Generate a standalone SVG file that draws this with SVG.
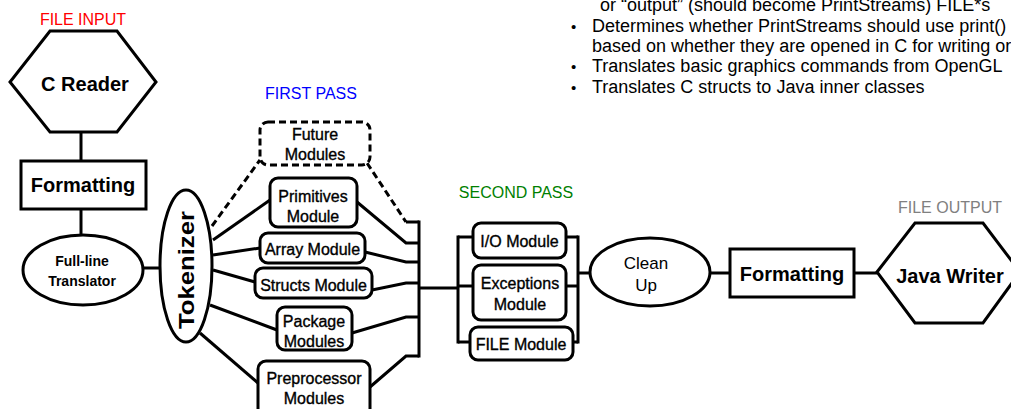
<svg xmlns="http://www.w3.org/2000/svg" width="1011" height="409" viewBox="0 0 1011 409">
<style>
.s{fill:#fff;stroke:#000;stroke-width:3}
.d{fill:#fff;stroke:#000;stroke-width:3;stroke-dasharray:7,4}
.ln{fill:none;stroke:#000;stroke-width:3}
.dl{fill:none;stroke:#000;stroke-width:3;stroke-dasharray:7,4}
text{font-family:"Liberation Sans",Arial,sans-serif;text-anchor:middle;fill:#000}
.b20{font-size:20px;font-weight:bold}
.b14{font-size:14px;font-weight:bold}
.m{font-size:16px;stroke:#000;stroke-width:0.35}
.h{font-size:16px}
.note{font-size:18px;text-anchor:start}
</style>
<rect width="1011" height="409" fill="#fff"/>
<g id="connectors">
<line class="ln" x1="81" y1="132" x2="81" y2="161"/>
<line class="ln" x1="81" y1="209" x2="81" y2="235"/>
<line class="ln" x1="144" y1="268" x2="160" y2="268"/>
<line class="dl" x1="212" y1="226" x2="260" y2="160"/>
<line class="ln" x1="213" y1="240" x2="270" y2="200"/>
<line class="ln" x1="213" y1="255" x2="260" y2="248"/>
<line class="ln" x1="213" y1="270" x2="255" y2="282"/>
<line class="ln" x1="210" y1="305" x2="277" y2="330"/>
<line class="ln" x1="200" y1="333" x2="258" y2="383"/>
<polyline class="dl" points="367,163 406,222"/>
<line class="ln" x1="406" y1="222" x2="419" y2="222"/>
<polyline class="ln" points="357,202 406,243 419,243"/>
<polyline class="ln" points="365,252 406,262 419,262"/>
<polyline class="ln" points="372,290 406,283 419,283"/>
<polyline class="ln" points="352,333 406,317 419,317"/>
<polyline class="ln" points="370,387 406,356 419,356"/>
<line class="ln" x1="419" y1="220.5" x2="419" y2="357.5"/>
<line class="ln" x1="419" y1="288" x2="458" y2="288"/>
<line class="ln" x1="458" y1="235.5" x2="458" y2="343.5"/>
<line class="ln" x1="458" y1="237" x2="473" y2="237"/>
<line class="ln" x1="458" y1="286" x2="473" y2="286"/>
<line class="ln" x1="458" y1="342" x2="470" y2="342"/>
<line class="ln" x1="578" y1="235.5" x2="578" y2="343.5"/>
<line class="ln" x1="566" y1="237" x2="578" y2="237"/>
<line class="ln" x1="566" y1="286" x2="578" y2="286"/>
<line class="ln" x1="573" y1="342" x2="578" y2="342"/>
<line class="ln" x1="578" y1="273" x2="590" y2="273"/>
<line class="ln" x1="710" y1="273" x2="730" y2="273"/>
<line class="ln" x1="854" y1="273" x2="877" y2="273"/>
</g>
<g id="file-input-label"><text x="83" y="25" class="h" style="fill:#f00">FILE INPUT</text></g>
<g id="c-reader">
<polygon class="s" points="50,31 117,31 156,82 117,132 50,132 10,82"/>
<text x="85" y="91" class="b20">C Reader</text>
</g>
<g id="formatting-in">
<rect class="s" x="21" y="161" width="125" height="48"/>
<text x="83" y="192" class="b20">Formatting</text>
</g>
<g id="full-line-translator">
<ellipse class="s" cx="83" cy="270" rx="60" ry="35"/>
<text x="82" y="266" class="b14">Full-line</text>
<text x="82" y="286" class="b14">Translator</text>
</g>
<g id="tokenizer">
<ellipse class="s" cx="186" cy="266" rx="26" ry="76"/>
<text x="0" y="0" class="b20" transform="translate(194,270) rotate(-90)" textLength="118" lengthAdjust="spacingAndGlyphs" style="font-size:22px">Tokenizer</text>
</g>
<g id="first-pass-label"><text x="311" y="99" class="h" style="fill:#00f">FIRST PASS</text></g>
<g id="future-modules">
<rect class="d" x="260" y="122" width="110" height="43" rx="8"/>
<text x="315" y="140" class="m">Future</text>
<text x="315" y="160" class="m">Modules</text>
</g>
<g id="primitives-module">
<rect class="s" x="270" y="178" width="87" height="49" rx="8"/>
<text x="313" y="202" class="m">Primitives</text>
<text x="313" y="222" class="m">Module</text>
</g>
<g id="array-module">
<rect class="s" x="260" y="233" width="105" height="30" rx="8"/>
<text x="312.5" y="255" class="m">Array Module</text>
</g>
<g id="structs-module">
<rect class="s" x="255" y="268" width="117" height="30" rx="8"/>
<text x="313.5" y="291" class="m">Structs Module</text>
</g>
<g id="package-modules">
<rect class="s" x="277" y="307" width="75" height="43" rx="8"/>
<text x="314" y="327" class="m">Package</text>
<text x="314" y="347" class="m">Modules</text>
</g>
<g id="preprocessor-modules">
<rect class="s" x="258" y="361" width="112" height="60" rx="8"/>
<text x="314" y="384" class="m">Preprocessor</text>
<text x="314" y="404" class="m">Modules</text>
</g>
<g id="second-pass-label"><text x="516" y="198" class="h" style="fill:#008000">SECOND PASS</text></g>
<g id="io-module">
<rect class="s" x="473" y="223" width="93" height="35" rx="8"/>
<text x="519.5" y="247" class="m">I/O Module</text>
</g>
<g id="exceptions-module">
<rect class="s" x="473" y="265" width="93" height="55" rx="8"/>
<text x="520" y="289" class="m">Exceptions</text>
<text x="520" y="310" class="m">Module</text>
</g>
<g id="file-module">
<rect class="s" x="470" y="327" width="103" height="33" rx="8"/>
<text x="521" y="350" class="m">FILE Module</text>
</g>
<g id="clean-up">
<ellipse class="s" cx="650" cy="272" rx="60" ry="34"/>
<text x="646" y="269" style="font-size:17px">Clean</text>
<text x="646" y="291" style="font-size:17px">Up</text>
</g>
<g id="formatting-out">
<rect class="s" x="730" y="249" width="124" height="48"/>
<text x="792" y="281" class="b20">Formatting</text>
</g>
<g id="file-output-label"><text x="950" y="213" class="h" style="fill:#808080">FILE OUTPUT</text></g>
<g id="java-writer">
<polygon class="s" points="877,272 915,223 983,223 1020,272 983,323 915,323"/>
<text x="950" y="283" class="b20">Java Writer</text>
</g>
<g id="notes">
<text x="600" y="11" class="note">or “output” (should become PrintStreams) FILE*s</text>
<text x="571" y="32" class="note" style="font-size:15px">•</text>
<text x="592" y="32" class="note">Determines whether PrintStreams should use print()</text>
<text x="592" y="52" class="note">based on whether they are opened in C for writing or</text>
<text x="571" y="72" class="note" style="font-size:15px">•</text>
<text x="592" y="72" class="note">Translates basic graphics commands from OpenGL</text>
<text x="571" y="93" class="note" style="font-size:15px">•</text>
<text x="592" y="93" class="note">Translates C structs to Java inner classes</text>
</g>
</svg>
